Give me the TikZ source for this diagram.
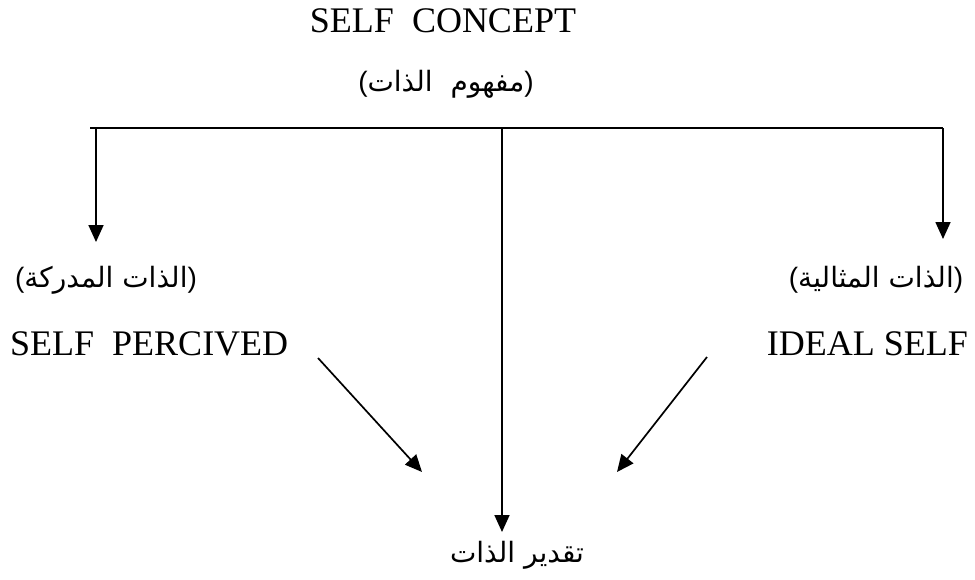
\documentclass[tikz,border=0pt]{standalone}
\usepackage{fontspec}
\setmainfont{Liberation Serif}
\newfontfamily\arabicfont[Script=Arabic]{DejaVu Sans}
\newfontfamily\parenfont{Liberation Sans}
\TeXXeTstate=1
\usetikzlibrary{arrows.meta}
\begin{document}
\begin{tikzpicture}[x=1pt,y=-1pt,
  lbl/.style={inner sep=0pt, font=\fontsize{36}{40}\selectfont},
  albl/.style={inner sep=0pt, font=\fontsize{28}{32}\selectfont\arabicfont},
  conn/.style={line width=1.7pt},
  arr/.style={line width=1.7pt, -{Triangle[length=17pt,width=15pt]}}]
\useasboundingbox (0,0) rectangle (975,579);
% texts
\node[lbl, anchor=base] (sc) at (443,32) {SELF\ \ CONCEPT};
\node[albl] (scar) at (446,84) {{\parenfont(}\beginR مفهوم\ \ الذات\endR{\parenfont)}};
\node[albl] (percar) at (106,280) {{\parenfont(}\beginR الذات المدركة\endR{\parenfont)}};
\node[lbl, anchor=base west] (perc) at (10,355) {SELF\ \ PERCIVED};
\node[albl] (idealar) at (876,280) {{\parenfont(}\beginR الذات المثالية\endR{\parenfont)}};
\node[lbl, anchor=base east] (ideal) at (968,355) {IDEAL SELF};
\node[albl] (est) at (517,555) {\beginR تقدير الذات\endR};
% junction coordinates
\coordinate (hl) at (90,128);
\coordinate (jl) at (96,128);
\coordinate (jc) at (502,128);
\coordinate (hr) at (943,128);
\coordinate (tl) at (96,242);
\coordinate (tr) at (943,239);
\coordinate (tc) at (502,532);
\coordinate (dls) at (318,358);
\coordinate (dle) at (422,472);
\coordinate (drs) at (707,357);
\coordinate (dre) at (617,472);
% connectors
\draw[conn] (hl) -- (hr);
\draw[arr] (jl) -- (tl);
\draw[arr] (hr) -- (tr);
\draw[arr] (jc) -- (tc);
\draw[arr] (dls) -- (dle);
\draw[arr] (drs) -- (dre);
\end{tikzpicture}
\end{document}
